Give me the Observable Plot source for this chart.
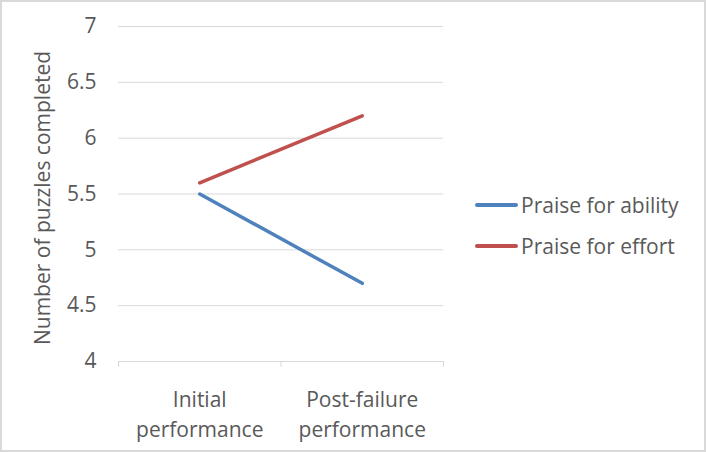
<!DOCTYPE html>
<html>
<head>
<meta charset="utf-8">
<script src="https://cdn.jsdelivr.net/npm/d3@7"></script>
<script src="https://cdn.jsdelivr.net/npm/@observablehq/plot@0.6"></script>
<style>
  html, body { margin: 0; padding: 0; background: #fff; }
  #wrap { position: relative; width: 706px; height: 452px; overflow: hidden; font-family: "Open Sans", sans-serif; }
  #border { position: absolute; left: 0; top: 0; width: 706px; height: 452px; box-sizing: border-box; border: 2px solid #d9d9d9; pointer-events: none; }
  #legend { position: absolute; left: 475px; top: 184px; color: #595959; font-size: 21px; }
  .item { display: flex; align-items: center; height: 41px; white-space: nowrap; }
  .sw { width: 43px; height: 4px; border-radius: 2px; margin-right: 3px; }
</style>
</head>
<body>
<div id="wrap"></div>
<script>
const categories = ["Initial\nperformance", "Post-failure\nperformance"];
const seriesNames = ["Praise for ability", "Praise for effort"];
const abilityValues = [5.5, 4.7];
const effortValues = [5.6, 6.2];
const yTicks = [4, 4.5, 5, 5.5, 6, 6.5, 7];
const colors = ["#4f81bd", "#c0504d"];
const yLabel = "Number of puzzles completed";

const data = [];
[abilityValues, effortValues].forEach((vals, s) => {
  vals.forEach((v, i) => data.push({series: seriesNames[s], xi: i + 0.5, value: v}));
});
const catData = categories.map((c, i) => ({label: c, xi: i + 0.5}));

const textColor = "#595959";
const fs = 21;
const plot = Plot.plot({
  width: 706,
  height: 452,
  marginLeft: 118,
  marginRight: 263,
  marginTop: 26,
  marginBottom: 91,
  style: {fontFamily: "'Open Sans', sans-serif", fontSize: fs + "px", color: textColor, background: "transparent"},
  x: {domain: [0, categories.length]},
  y: {domain: [4, 7]},
  color: {domain: seriesNames, range: colors},
  marks: [
    Plot.gridY(yTicks, {stroke: "#d9d9d9", strokeOpacity: 1}),
    Plot.axisY(yTicks, {tickSize: 0, tickPadding: 22, fontSize: fs, fill: textColor, label: null, tickFormat: d => String(d)}),
    Plot.ruleY([4], {stroke: "#d9d9d9"}),
    Plot.axisX(d3.range(categories.length + 1), {tickSize: 6, stroke: "#d9d9d9", strokeOpacity: 1, tickFormat: () => "", label: null}),
    Plot.text(catData, {x: "xi", y: () => 4, text: "label", lineAnchor: "top", dy: 24, lineHeight: 1.43, fontSize: fs, fill: textColor}),
    Plot.text([yLabel], {frameAnchor: "left", text: d => d, rotate: -90, textAnchor: "middle", dx: -75, dy: 4, fontSize: fs, fill: textColor}),
    Plot.line(data, {x: "xi", y: "value", z: "series", stroke: "series", strokeWidth: 3.5, strokeLinecap: "round"})
  ]
});
const wrap = document.getElementById("wrap");
wrap.appendChild(plot);

const legend = document.createElement("div");
legend.id = "legend";
seriesNames.forEach((n, i) => {
  const it = document.createElement("div");
  it.className = "item";
  const sw = document.createElement("div");
  sw.className = "sw";
  sw.style.background = colors[i];
  const t = document.createElement("span");
  t.textContent = n;
  it.appendChild(sw); it.appendChild(t);
  legend.appendChild(it);
});
wrap.appendChild(legend);
const b = document.createElement("div");
b.id = "border";
wrap.appendChild(b);
</script>
</body>
</html>
